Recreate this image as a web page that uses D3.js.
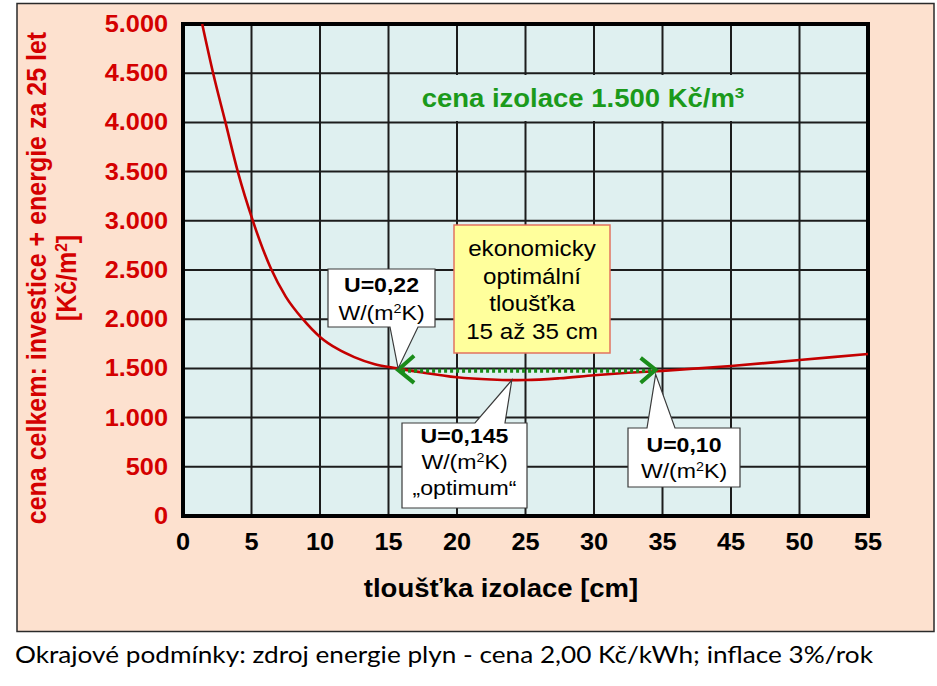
<!DOCTYPE html>
<html lang="cs">
<head>
<meta charset="UTF-8">
<script src="https://d3js.org/d3.v7.min.js"></script>
<title>Ekonomicky optimální tloušťka izolace</title>
<style>
  body { margin: 0; background: #fff; }
  svg { display: block; font-family: "Liberation Sans", Arial, sans-serif; }
  .grid line { stroke: #1c1c1c; stroke-width: 2; }
  .ytick { fill: #d40000; font-size: 23px; font-weight: bold; text-anchor: end; }
  .xtick { fill: #000; font-size: 23px; font-weight: bold; text-anchor: middle; }
  .ytitle { fill: #d40000; font-size: 25px; font-weight: bold; text-anchor: middle; }
  .xtitle { fill: #000; font-size: 25px; font-weight: bold; text-anchor: middle; }
  .price { fill: #1b9a1b; font-size: 25px; font-weight: bold; text-anchor: middle; }
  .note { fill: #000; font-size: 22px; text-anchor: middle; }
  .call { fill: #000; font-size: 21px; text-anchor: middle; }
  .call.bold { font-weight: bold; }
  .footer { fill: #000; font-family: Lato, "Open Sans", sans-serif; font-size: 24px; }
</style>
</head>
<body>
<svg id="chart" width="937" height="686"></svg>
<script>
// curve (x in axis units, y in Kč/m2)
const thickness = [1.4, 2.2, 3.1, 4.0, 5.1, 6.4, 7.5, 8.75, 10, 11.25, 12.5, 14, 15.7, 17.5, 20, 22.5, 24, 25, 27.5, 30, 32.5, 35, 40, 45, 50];
const totalCost = [5000, 4500, 4000, 3500, 3000, 2520, 2230, 2000, 1820, 1700, 1615, 1542, 1500, 1458, 1410, 1387, 1381, 1382, 1400, 1430, 1455, 1475, 1524, 1585, 1646];

// the original axis skips "40"
const xTicks = [0, 5, 10, 15, 20, 25, 30, 35, 40, 45, 50];
const xTickLabels = ["0", "5", "10", "15", "20", "25", "30", "35", "45", "50", "55"];
const yTicks = d3.range(0, 5001, 500);

const yTitle = ["cena celkem:  investice + energie za 25 let", "[Kč/m^2]"];
const xTitle = "tloušťka izolace [cm]";
const priceLabel = "cena izolace 1.500 Kč/m^3";
const noteLines = ["ekonomicky", "optimální", "tloušťka", "15 až 35 cm"];
const footer = "Okrajové podmínky: zdroj energie plyn - cena 2,00 Kč/kWh; inflace 3%/rok";

// range arrow (x from, x to, level)
const rangeArrow = [15.7, 34.5, 1475];

const callouts = [
    { lines: ["U=0,22", "W/(m^2K)"], at: [15.7, 1500] },
    { lines: ["U=0,145", "W/(m^2K)", "„optimum“"], at: [24, 1381] },
    { lines: ["U=0,10", "W/(m^2K)"], at: [34.5, 1440] }
];

// ---- layout ----
const K = 1.1; // the reference picture is a bit stretched sideways
const plot = { left: 183, right: 868, top: 24, bottom: 516 };
const calloutBoxes = [
    { l: 328, r: 435, t: 269, b: 327, p1: 390, p2: 418, side: "bottom", base: 292, step: 28 },
    { l: 402, r: 527, t: 423, b: 508, p1: 475, p2: 505, side: "top", base: 443, step: 26 },
    { l: 628, r: 740, t: 428, b: 487, p1: 647, p2: 675, side: "top", base: 452, step: 26 }
];

const svg = d3.select("#chart");

const x = d3.scaleLinear().domain([0, 50]).range([plot.left, plot.right]);
const y = d3.scaleLinear().domain([0, 5000]).range([plot.bottom, plot.top]);
const czFmt = d3.formatLocale({ decimal: ",", thousands: ".", grouping: [3], currency: ["", " Kč"] }).format(",");

// text with "^n" as superscript
function rich(sel, str) {
    str.split(/(\^\d)/).forEach(part => {
        if (part.startsWith("^")) {
            sel.append("tspan").attr("baseline-shift", "super").attr("font-size", "62%").text(part.slice(1));
        } else if (part) {
            sel.append("tspan").text(part);
        }
    });
    return sel;
}

function label(g, px, py, str, cls, rot) {
    const t = g.append("text")
        .attr("class", cls)
        .attr("transform", `translate(${px},${py}) scale(${K},1)` + (rot ? ` rotate(${rot})` : ""));
    return rich(t, str);
}

// outer panel
svg.append("rect")
    .attr("x", 17).attr("y", 3.5).attr("width", 917).attr("height", 628)
    .attr("fill", "#fde1cf").attr("stroke", "#2a2a2a").attr("stroke-width", 1.5);

// plot area
svg.append("rect")
    .attr("x", plot.left).attr("y", plot.top)
    .attr("width", plot.right - plot.left).attr("height", plot.bottom - plot.top)
    .attr("fill", "#dff0f0");

const grid = svg.append("g").attr("class", "grid");
grid.selectAll(".v").data(xTicks).enter().append("line")
    .attr("x1", d => x(d)).attr("x2", d => x(d))
    .attr("y1", plot.top).attr("y2", plot.bottom);
grid.selectAll(".h").data(yTicks).enter().append("line")
    .attr("x1", plot.left).attr("x2", plot.right)
    .attr("y1", d => y(d)).attr("y2", d => y(d));

// green price label sits on a patch of plot colour
svg.append("rect")
    .attr("x", 390).attr("y", 75).attr("width", 395).attr("height", 46)
    .attr("fill", "#dff0f0");
label(svg, 583, 107, priceLabel, "price");

// frame
svg.append("rect")
    .attr("x", plot.left).attr("y", plot.top)
    .attr("width", plot.right - plot.left).attr("height", plot.bottom - plot.top)
    .attr("fill", "none").attr("stroke", "#000").attr("stroke-width", 4);

// tick labels
yTicks.forEach(d => label(svg, 168, y(d) + 8, czFmt(d), "ytick"));
xTicks.forEach((d, i) => label(svg, x(d), 550, xTickLabels[i], "xtick"));

// axis titles
label(svg, 46, 278, yTitle[0], "ytitle", -90);
label(svg, 76, 278, yTitle[1], "ytitle", -90);
label(svg, 501, 597, xTitle, "xtitle");

// yellow note
svg.append("rect")
    .attr("x", 454).attr("y", 225).attr("width", 156).attr("height", 128)
    .attr("fill", "#ffff9c").attr("stroke", "#e2735f").attr("stroke-width", 1.5);
noteLines.forEach((s, i) => label(svg, 532, 256 + i * 27.5, s, "note"));

// cost curve
const line = d3.line()
    .x(d => x(d[0]))
    .y(d => y(d[1]))
    .curve(d3.curveMonotoneX);
svg.append("path")
    .datum(thickness.map((t, i) => [t, totalCost[i]]))
    .attr("d", line)
    .attr("fill", "none")
    .attr("stroke", "#c40000")
    .attr("stroke-width", 2.6);

// dotted range arrow
const ax1 = x(rangeArrow[0]), ax2 = x(rangeArrow[1]), ay = y(rangeArrow[2]);
const green = "#1a8c1a";
svg.append("line")
    .attr("x1", ax1 + 4).attr("x2", ax2 - 4).attr("y1", ay).attr("y2", ay)
    .attr("stroke", green).attr("stroke-width", 4).attr("stroke-dasharray", "3,3");
svg.append("path")
    .attr("d", `M${ax1 + 16},${ay - 15} L${ax1},${ay - 1} L${ax1 + 16},${ay + 12}`)
    .attr("fill", "none").attr("stroke", green).attr("stroke-width", 4).attr("stroke-linejoin", "miter");
svg.append("path")
    .attr("d", `M${ax2 - 15},${ay - 13} L${ax2},${ay - 1} L${ax2 - 15},${ay + 12}`)
    .attr("fill", "none").attr("stroke", green).attr("stroke-width", 4).attr("stroke-linejoin", "miter");

// callouts
callouts.forEach((c, i) => {
    const b = calloutBoxes[i];
    const tx = x(c.at[0]), ty = y(c.at[1]);
    const pts = b.side === "bottom"
        ? [[b.l, b.t], [b.r, b.t], [b.r, b.b], [b.p2, b.b], [tx, ty], [b.p1, b.b], [b.l, b.b]]
        : [[b.l, b.t], [b.p1, b.t], [tx, ty], [b.p2, b.t], [b.r, b.t], [b.r, b.b], [b.l, b.b]];
    svg.append("polygon")
        .attr("points", pts.map(p => p.join(",")).join(" "))
        .attr("fill", "#fff").attr("stroke", "#3a3a3a").attr("stroke-width", 1.2);
    const cx = (b.l + b.r) / 2;
    c.lines.forEach((s, j) => label(svg, cx, b.base + j * b.step, s, j === 0 ? "call bold" : "call"));
});

// footer note
svg.append("text")
    .attr("class", "footer")
    .attr("x", 15).attr("y", 663)
    .attr("textLength", 858).attr("lengthAdjust", "spacingAndGlyphs")
    .text(footer);
</script>
</body>
</html>
